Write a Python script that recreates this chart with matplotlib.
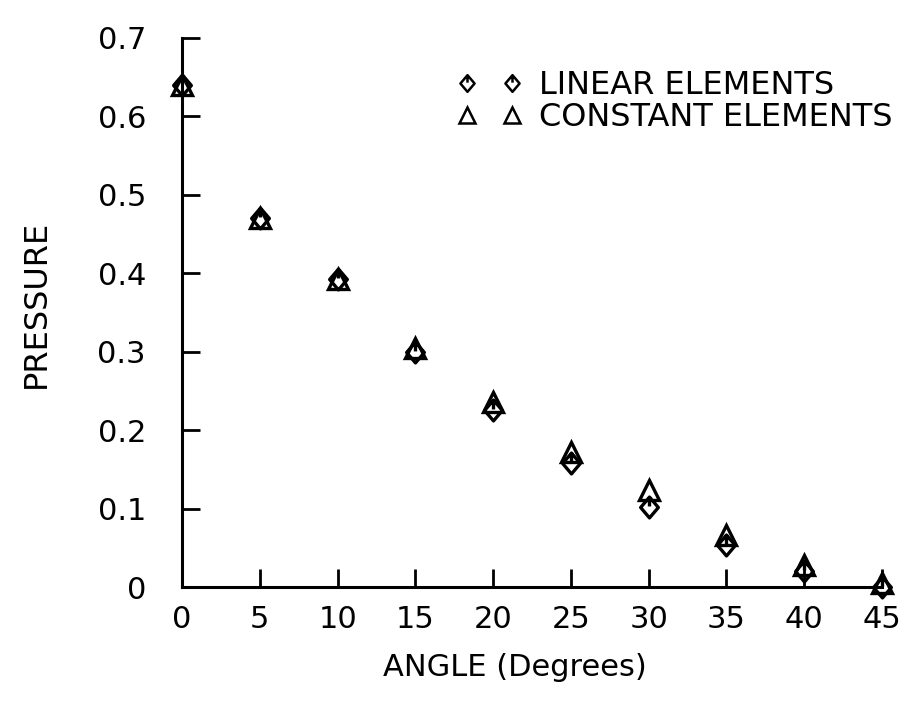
import matplotlib
matplotlib.use("Agg")
import matplotlib.pyplot as plt
from matplotlib.path import Path

angle = [0, 5, 10, 15, 20, 25, 30, 35, 40, 45]
linear = [0.640, 0.471, 0.393, 0.300, 0.226, 0.158, 0.102, 0.054, 0.020, 0.000]
constant = [0.640, 0.471, 0.393, 0.305, 0.236, 0.172, 0.124, 0.066, 0.028, 0.005]
xticks = [0, 5, 10, 15, 20, 25, 30, 35, 40, 45]
yticks = [0, 0.1, 0.2, 0.3, 0.4, 0.5, 0.6, 0.7]
ytick_labels = ["0", "0.1", "0.2", "0.3", "0.4", "0.5", "0.6", "0.7"]

plt.rcParams['font.family'] = ['DejaVu Sans']

# diamond with a short vertical stroke from the top into the middle
diamond = Path(
    [(0, 1), (0.85, 0), (0, -1), (-0.85, 0), (0, 1), (0, 1), (0, 0.1)],
    [Path.MOVETO, Path.LINETO, Path.LINETO, Path.LINETO, Path.CLOSEPOLY,
     Path.MOVETO, Path.LINETO],
)

fig = plt.figure(figsize=(9.06, 7.02), dpi=100)
ax = fig.add_axes([0.2009, 0.1638, 0.7726, 0.7821])

ax.plot(angle, linear, linestyle="none", marker=diamond, markersize=15,
        markerfacecolor="none", markeredgecolor="black", markeredgewidth=2.4,
        label="LINEAR ELEMENTS", clip_on=False)
ax.plot(angle, constant, linestyle="none", marker="^", markersize=14,
        markerfacecolor="none", markeredgecolor="black", markeredgewidth=2.4,
        label="CONSTANT ELEMENTS", clip_on=False)

ax.set_xlim(0, 45)
ax.set_ylim(0, 0.7)
ax.spines["top"].set_visible(False)
ax.spines["right"].set_visible(False)
ax.spines["left"].set_linewidth(2.2)
ax.spines["bottom"].set_linewidth(2.2)

ax.set_xticks(xticks)
ax.set_xticklabels([str(v) for v in xticks])
ax.set_yticks(yticks)
ax.set_yticklabels(ytick_labels)
ax.tick_params(axis="both", direction="in", length=13, width=2, labelsize=22)
ax.tick_params(axis="y", pad=26)
ax.tick_params(axis="x", pad=13)

ax.set_xlabel("ANGLE (Degrees)", fontsize=22)
ax.xaxis.set_label_coords(0.475, -0.121)
ax.set_ylabel("PRESSURE", fontsize=23)
ax.yaxis.set_label_coords(-0.186, 0.515)

leg = ax.legend(loc="upper left", bbox_to_anchor=(0.393, 0.942), frameon=False,
                numpoints=2, fontsize=23, handlelength=2.03, handletextpad=0.54,
                labelspacing=0.05, borderaxespad=0.0, borderpad=0.0)
for h in leg.legend_handles:
    h.set_markersize(12)
    h.set_markeredgewidth(1.8)

fig.savefig("out.png", dpi=100)
